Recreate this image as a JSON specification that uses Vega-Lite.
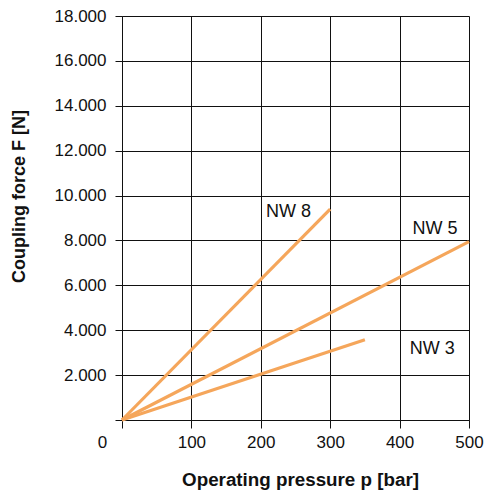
{
  "$schema": "https://vega.github.io/schema/vega-lite/v6.json",
  "width": 347,
  "height": 404,
  "autosize": {"type": "none"},
  "padding": {"left": 122, "top": 16, "right": 18, "bottom": 72},
  "background": "white",
  "config": {
    "view": {"stroke": null},
    "font": "Liberation Sans",
    "axis": {
      "gridColor": "#111111",
      "gridOpacity": 1,
      "gridWidth": 1,
      "domainColor": "#111111",
      "domainWidth": 1,
      "tickColor": "#111111",
      "tickWidth": 1,
      "labelColor": "#111111",
      "titleColor": "#111111",
      "labelFont": "Liberation Sans",
      "titleFont": "Liberation Sans",
      "labelFontSize": 17,
      "titleFontSize": 18,
      "titleFontWeight": "bold"
    }
  },
  "datasets": {
    "lines": [
      {"series": "NW 8", "p": 0, "F": 0},
      {"series": "NW 8", "p": 300, "F": 9400},
      {"series": "NW 5", "p": 0, "F": 0},
      {"series": "NW 5", "p": 500, "F": 7950},
      {"series": "NW 3", "p": 0, "F": 0},
      {"series": "NW 3", "p": 350, "F": 3580}
    ],
    "labels": [
      {"label": "NW 8", "p": 240, "F": 9270},
      {"label": "NW 5", "p": 451, "F": 8500},
      {"label": "NW 3", "p": 447, "F": 3160}
    ]
  },
  "layer": [
    {
      "data": {"name": "lines"},
      "mark": {"type": "line", "color": "#F5A65B", "strokeWidth": 3.2},
      "encoding": {
        "x": {
          "field": "p",
          "type": "quantitative",
          "scale": {"domain": [0, 500], "nice": false},
          "axis": {
            "title": "Operating pressure p [bar]",
            "values": [0, 100, 200, 300, 400, 500],
            "grid": true,
            "tickSize": 8,
            "labelPadding": 6,
            "labelFlush": false,
            "labelOverlap": false,
            "labelOffset": {"condition": {"test": "datum.value == 0", "value": -20}, "value": 0},
            "titleFontSize": 18.8,
            "titleX": 178,
            "titleY": 65,
            "titleAlign": "center",
            "titleBaseline": "alphabetic"
          }
        },
        "y": {
          "field": "F",
          "type": "quantitative",
          "scale": {"domain": [0, 18000], "nice": false},
          "axis": {
            "title": "Coupling force F [N]",
            "values": [0, 2000, 4000, 6000, 8000, 10000, 12000, 14000, 16000, 18000],
            "grid": true,
            "tickSize": 7,
            "labelPadding": 9,
            "labelFlush": false,
            "labelOverlap": false,
            "labelExpr": "datum.value == 0 ? '' : replace(format(datum.value, ','), ',', '.')",
            "titleX": -98,
            "titleY": 180,
            "titleAngle": 270,
            "titleAlign": "center",
            "titleBaseline": "alphabetic"
          }
        },
        "detail": {"field": "series"}
      }
    },
    {
      "data": {"name": "labels"},
      "mark": {"type": "text", "fontSize": 18, "font": "Liberation Sans", "color": "#111111", "align": "center", "baseline": "middle"},
      "encoding": {
        "x": {"field": "p", "type": "quantitative"},
        "y": {"field": "F", "type": "quantitative"},
        "text": {"field": "label"}
      }
    }
  ]
}
